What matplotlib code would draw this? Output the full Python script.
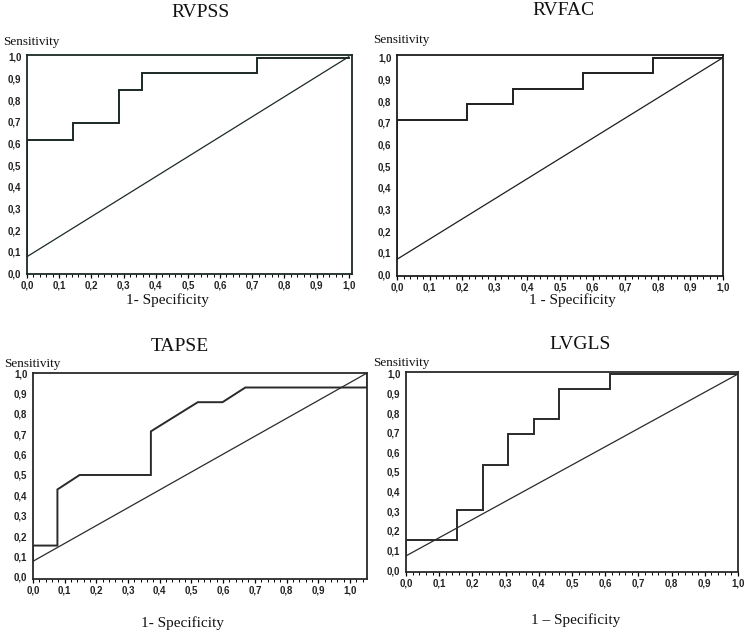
import matplotlib
matplotlib.use("Agg")
import matplotlib.pyplot as plt
from matplotlib.ticker import FuncFormatter, MultipleLocator

# ---- data ----
titles = ["RVPSS", "RVFAC", "TAPSE", "LVGLS"]
xlabels = ["1- Specificity", "1 - Specificity", "1- Specificity", "1 \u2013 Specificity"]

rvpss_fpr = [0.0, 0.0, 0.143, 0.143, 0.286, 0.286, 0.357, 0.357, 0.714, 0.714, 1.0]
rvpss_tpr = [0.077, 0.615, 0.615, 0.692, 0.692, 0.846, 0.846, 0.923, 0.923, 0.995, 0.995]

rvfac_fpr = [0.0, 0.0, 0.214, 0.214, 0.357, 0.357, 0.571, 0.571, 0.786, 0.786, 1.0]
rvfac_tpr = [0.071, 0.714, 0.714, 0.786, 0.786, 0.857, 0.857, 0.929, 0.929, 1.0, 1.0]

tapse_fpr = [0.0, 0.0, 0.077, 0.077, 0.147, 0.372, 0.372, 0.52, 0.598, 0.67, 1.054, 1.054]
tapse_tpr = [0.077, 0.154, 0.154, 0.429, 0.5, 0.5, 0.714, 0.857, 0.857, 0.929, 0.929, 1.0]

lvgls_fpr = [0.0, 0.0, 0.154, 0.154, 0.231, 0.231, 0.308, 0.308, 0.385, 0.385, 0.462, 0.462, 0.615, 0.615, 1.0]
lvgls_tpr = [0.077, 0.154, 0.154, 0.308, 0.308, 0.538, 0.538, 0.692, 0.692, 0.769, 0.769, 0.923, 0.923, 1.0, 1.0]

# reference (chance) line endpoints
diag_x = [[0.0, 1.0], [0.0, 1.0], [0.0, 1.054], [0.0, 1.0]]
diag_y = [[0.077, 1.0], [0.071, 1.0], [0.077, 1.0], [0.072, 1.0]]

curves = [(rvpss_fpr, rvpss_tpr), (rvfac_fpr, rvfac_tpr),
          (tapse_fpr, tapse_tpr), (lvgls_fpr, lvgls_tpr)]

xticks = [0.0, 0.1, 0.2, 0.3, 0.4, 0.5, 0.6, 0.7, 0.8, 0.9, 1.0]
yticks = [0.0, 0.1, 0.2, 0.3, 0.4, 0.5, 0.6, 0.7, 0.8, 0.9, 1.0]

# ---- layout ----
fig = plt.figure(figsize=(7.47, 6.33), dpi=100, facecolor="white")

axes_pos = [
    [0.0361, 0.5671, 0.4351, 0.3460],
    [0.5315, 0.5640, 0.4364, 0.3491],
    [0.0442, 0.0853, 0.4471, 0.3254],
    [0.5435, 0.0964, 0.4445, 0.3159],
]
xlims = [(0.0, 1.01), (0.0, 1.0), (0.0, 1.054), (0.0, 1.0)]
ylims = [(-0.003, 1.008), (-0.006, 1.012), (-0.01, 1.0), (-0.01, 1.01)]

title_pos = [(0.268, 0.981), (0.754, 0.984), (0.241, 0.452), (0.776, 0.455)]
sens_pos = [(0.004, 0.934), (0.499, 0.937), (0.005, 0.425), (0.499, 0.4265)]
xlab_pos = [(0.224, 0.526), (0.766, 0.526), (0.244, 0.016), (0.770, 0.0205)]

line_col = ["#1b2a22", "#1e1e1e", "#2a2a2a", "#2a2a2a"]
serif = ["Liberation Serif", "DejaVu Serif"]
sans = ["Liberation Sans", "DejaVu Sans"]

fmt = FuncFormatter(lambda v, p: f"{v:.1f}".replace(".", ","))

for i in range(4):
    ax = fig.add_axes(axes_pos[i])
    fx, fy = curves[i]
    ax.plot(fx, fy, color=line_col[i], lw=1.4, solid_joinstyle="miter")
    ax.plot(diag_x[i], diag_y[i], color=line_col[i], lw=0.9)
    ax.set_xlim(*xlims[i])
    ax.set_ylim(*ylims[i])
    ax.set_xticks(xticks)
    ax.set_yticks(yticks)
    ax.xaxis.set_minor_locator(MultipleLocator(0.02))
    ax.xaxis.set_major_formatter(fmt)
    ax.yaxis.set_major_formatter(fmt)
    ax.tick_params(axis="x", which="major", length=3, width=0.9, pad=1.5,
                   labelsize=7, direction="out")
    ax.tick_params(axis="x", which="minor", length=2, width=0.7, direction="out")
    ax.tick_params(axis="y", which="major", length=0, pad=4, labelsize=7)
    for lab in ax.get_xticklabels() + ax.get_yticklabels():
        lab.set_fontfamily(sans)
        lab.set_fontweight("bold")
        lab.set_color("#222222")
    for s in ax.spines.values():
        s.set_linewidth(1.3)
        s.set_color(line_col[i])

    fig.text(title_pos[i][0], title_pos[i][1], titles[i], ha="center", va="center",
             fontsize=14, family=serif, color="#111111")
    fig.text(sens_pos[i][0], sens_pos[i][1], "Sensitivity", ha="left", va="center",
             fontsize=9.5, family=serif, color="#111111")
    fig.text(xlab_pos[i][0], xlab_pos[i][1], xlabels[i], ha="center", va="center",
             fontsize=11, family=serif, color="#111111")

fig.savefig("out.png", dpi=100, facecolor="white")
